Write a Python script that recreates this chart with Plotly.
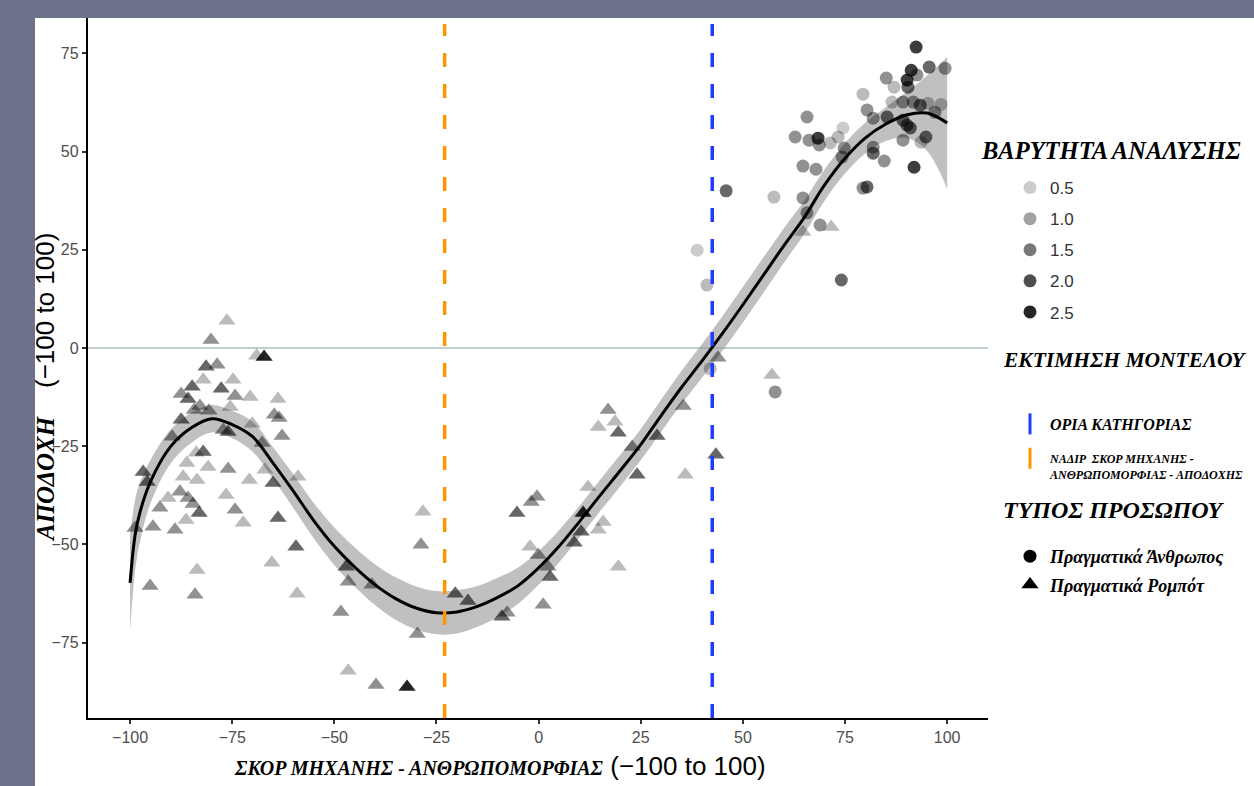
import plotly.graph_objects as go

# ---------------- data ----------------
# Robot faces (triangles): machine-human score, acceptance, analysis weight
robot_x = [-76.3, -80.2, -69.0, -67.2, -81.4, -78.7, -82.1, -74.8, -84.8, -87.5,
           -77.7, -74.3, -70.6, -63.8, -85.8, -82.9, -75.5, -84.3, -80.7, -64.7,
           -63.5, -87.5, -70.1, -89.7, -77.2, -76.0, -67.7, -62.8, -82.1, -83.8,
           -86.1, -80.9, -76.0, -70.8, -67.0, -65.0, -58.9, -96.8, -95.8, -87.0,
           -83.6, -90.7, -87.8, -85.8, -92.7, -84.6, -83.1, -76.5, -74.3, -72.3,
           -86.3, -89.0, -94.4, -98.8, -63.8, -59.4, -65.3, -83.6, -95.1, -84.1,
           -59.1,
           -47.1, -46.6, -40.8, -48.4, -28.3, -28.8, -29.7, -46.6, -39.8, -32.2,
           -20.4, -17.3, -9.0, -7.7, 1.1, -5.3, -1.8, -0.4, -2.1, -0.1,
           2.8, 2.3, 8.7, 10.9, 12.1, 10.4, 14.6, 15.8, 19.5, 17.0,
           14.6, 18.7, 19.5, 22.9, 24.1, 29.0, 35.9, 35.4, 43.4, 43.9,
           57.1, 64.7, 71.6]
robot_y = [6.9, 2.0, -2.0, -2.3, -4.8, -4.3, -8.1, -8.1, -9.9, -11.7,
           -10.4, -12.2, -12.5, -13.0, -13.0, -14.8, -15.0, -15.8, -16.0, -17.0,
           -17.8, -18.3, -19.3, -22.6, -20.9, -21.4, -24.2, -22.4, -26.5, -26.7,
           -29.3, -30.3, -30.8, -33.6, -31.0, -34.4, -32.8, -31.6, -34.1, -32.8,
           -33.6, -38.2, -36.6, -38.2, -40.7, -39.7, -42.0, -37.4, -41.2, -44.5,
           -43.8, -46.3, -45.5, -45.8, -43.3, -50.6, -54.7, -56.5, -60.6, -62.8,
           -62.6,
           -55.7, -59.5, -60.3, -67.2, -41.7, -50.1, -72.8, -82.2, -85.8, -86.3,
           -62.6, -64.4, -68.4, -67.4, -65.4, -42.0, -39.2, -37.9, -50.6, -52.7,
           -58.3, -55.7, -49.6, -42.0, -35.4, -46.8, -46.3, -44.3, -55.7, -15.8,
           -20.1, -18.8, -21.6, -25.2, -32.3, -22.4, -32.3, -14.8, -27.2, -2.5,
           -6.9, 29.5, 30.8]
robot_w = [0.7, 1.2, 0.7, 2.5, 1.7, 1.2, 0.7, 0.7, 1.7, 1.2,
           1.7, 1.2, 0.7, 0.7, 1.7, 1.2, 0.7, 1.2, 1.2, 1.2,
           1.2, 1.7, 0.7, 1.2, 1.2, 1.7, 1.2, 1.2, 1.7, 0.7,
           0.7, 0.7, 1.2, 0.7, 0.7, 1.7, 0.7, 1.7, 1.7, 0.7,
           0.7, 0.7, 1.2, 1.2, 1.2, 1.2, 1.7, 0.7, 1.2, 0.7,
           0.7, 1.2, 1.2, 1.2, 1.7, 1.7, 0.7, 0.7, 1.2, 1.2,
           0.7,
           1.7, 1.2, 1.2, 1.2, 0.7, 1.2, 1.2, 0.7, 1.2, 2.5,
           1.7, 1.7, 1.7, 1.2, 1.2, 1.7, 1.2, 1.2, 0.7, 1.2,
           1.7, 1.2, 1.7, 2.5, 0.7, 1.7, 0.7, 0.7, 0.7, 1.2,
           0.7, 0.7, 1.7, 1.2, 1.7, 1.7, 0.7, 1.2, 1.7, 1.2,
           0.7, 0.7, 0.7]

# Human faces (circles)
human_x = [92.4, 95.6, 91.2, 92.6, 85.1, 90.2, 87.0, 90.4, 79.4, 86.5,
           89.2, 91.7, 93.4, 95.3, 80.4, 81.9, 85.3, 89.2, 90.2, 91.0,
           65.7, 74.5, 62.8, 66.2, 68.4, 68.7, 71.4, 73.3, 74.8, 74.3,
           81.9, 81.9, 89.2, 93.6, 94.8, 84.6, 91.9, 64.7, 67.9, 79.4,
           80.4, 57.6, 64.7, 45.9, 65.7, 68.9, 74.1, 38.8, 41.2, 42.0,
           57.9, 99.5, 98.5, 97.0]
human_y = [76.6, 71.5, 70.7, 69.5, 68.7, 68.2, 66.4, 66.4, 64.6, 62.6,
           62.6, 62.6, 61.8, 62.3, 60.6, 58.5, 58.8, 58.0, 56.7, 56.0,
           58.8, 56.0, 53.7, 52.9, 53.4, 51.7, 52.2, 53.7, 50.9, 48.6,
           51.1, 49.6, 52.9, 52.4, 53.7, 47.6, 46.0, 46.3, 45.5, 40.7,
           41.0, 38.4, 38.2, 40.0, 34.4, 31.3, 17.3, 24.9, 16.0, -5.3,
           -11.2, 71.2, 62.0, 60.0]
human_w = [2.2, 1.7, 2.2, 1.2, 1.2, 2.2, 0.7, 1.7, 0.7, 0.7,
           1.2, 1.2, 1.7, 0.7, 1.2, 1.2, 1.7, 1.7, 1.7, 1.7,
           1.2, 0.5, 1.2, 1.2, 2.2, 1.2, 0.7, 0.7, 1.2, 1.2,
           1.2, 1.7, 1.2, 0.7, 1.7, 1.2, 2.2, 1.2, 1.2, 1.2,
           1.7, 0.7, 1.2, 1.7, 1.2, 1.2, 1.7, 0.5, 0.7, 0.7,
           1.2, 1.2, 0.7, 1.2]

# Model estimate (smooth fit) and its confidence band, read at these scores
fit_x = [-100, -98.75, -97.5, -95, -90, -85, -80, -75, -70, -65, -60, -55, -50, -45, -40,
         -35, -30, -25, -20, -15, -10, -5, 0, 5, 10, 15, 20, 25, 30, 35, 40,
         45, 50, 55, 60, 65, 70, 75, 80, 85, 90, 95, 100]
fit_y = [-59.8, -47.5, -41.5, -34.0, -25.0, -20.3, -18.0, -19.5, -22.6, -29.3, -36.5,
         -44.0, -50.5, -55.8, -60.3, -63.8, -66.2, -67.4, -67.2, -65.8, -63.5,
         -60.5, -56.0, -50.5, -44.2, -37.6, -31.2, -24.6, -17.2, -10.0, -3.3,
         3.7, 11.0, 18.5, 26.0, 33.2, 41.5, 48.3, 53.5, 57.0, 59.3, 59.8, 57.3]
band_lo = [-72.0, -56.5, -49.0, -39.5, -29.3, -24.1, -21.5, -23.0, -26.4, -33.3, -40.8,
           -48.5, -55.3, -60.8, -65.5, -69.2, -71.7, -72.9, -72.7, -71.0, -68.5,
           -65.1, -60.3, -54.6, -48.2, -41.6, -35.2, -28.6, -21.3, -14.2, -7.6,
           -0.7, 6.5, 14.0, 21.6, 29.0, 37.5, 44.4, 49.6, 52.7, 53.5, 50.3, 40.5]
band_hi = [-47.6, -38.5, -34.0, -28.5, -20.7, -16.5, -14.5, -16.0, -18.8, -25.3, -32.2,
           -39.5, -45.7, -50.8, -55.1, -58.4, -60.7, -61.9, -61.7, -60.6, -58.5,
           -55.9, -51.7, -46.4, -40.2, -33.6, -27.2, -20.6, -13.1, -5.8, 1.0,
           8.1, 15.5, 23.0, 30.4, 37.4, 45.5, 52.2, 57.4, 61.3, 65.1, 69.3, 74.1]

category_boundary = 42.5   # blue dashed line
nadir_score = -23.0        # orange dashed line

x_ticks = [-100, -75, -50, -25, 0, 25, 50, 75, 100]
y_ticks = [-75, -50, -25, 0, 25, 50, 75]
weight_levels = [0.5, 1.0, 1.5, 2.0, 2.5]
weight_labels = ["0.5", "1.0", "1.5", "2.0", "2.5"]

# ---------------- styling ----------------
SERIF = "Liberation Serif"
SANS = "Liberation Sans"
BLUE = "#1f3cff"
ORANGE = "#ff9500"


def alpha(w):
    return 0.035 + 0.33 * w


fig = go.Figure()

# confidence band
fig.add_trace(go.Scatter(x=fit_x, y=band_lo, mode="lines", line=dict(width=0, shape="spline"),
                         showlegend=False, hoverinfo="skip"))
fig.add_trace(go.Scatter(x=fit_x, y=band_hi, mode="lines", line=dict(width=0, shape="spline"),
                         fill="tonexty", fillcolor="rgba(150,150,150,0.6)",
                         showlegend=False, hoverinfo="skip"))

# points
fig.add_trace(go.Scatter(x=robot_x, y=robot_y, mode="markers", showlegend=False,
                         marker=dict(symbol="triangle-up", size=15, color="black",
                                     opacity=[alpha(w) for w in robot_w], line=dict(width=0))))
fig.add_trace(go.Scatter(x=human_x, y=human_y, mode="markers", showlegend=False,
                         marker=dict(symbol="circle", size=13, color="black",
                                     opacity=[alpha(w) for w in human_w], line=dict(width=0))))

# fit line
fig.add_trace(go.Scatter(x=fit_x, y=fit_y, mode="lines", showlegend=False,
                         line=dict(color="black", width=3, shape="spline"), hoverinfo="skip"))

# ---- legend-only traces ----
for i, (w, lab) in enumerate(zip(weight_levels, weight_labels)):
    fig.add_trace(go.Scatter(x=[None], y=[None], mode="markers", name=lab,
                             legend="legend", legendgroup=f"w{i}",
                             marker=dict(symbol="circle", size=13, color="black",
                                         opacity=alpha(w), line=dict(width=0))))

fig.add_trace(go.Scatter(x=[None], y=[None], mode="markers",
                         name="ΟΡΙΑ ΚΑΤΗΓΟΡΙΑΣ",
                         legend="legend2",
                         marker=dict(symbol="line-ns-open", size=15, color=BLUE,
                                     line=dict(color=BLUE, width=3))))
fig.add_trace(go.Scatter(x=[None], y=[None], mode="markers",
                         name="ΝΑΔΙΡ  ΣΚΟΡ ΜΗΧΑΝΗΣ -<br>ΑΝΘΡΩΠΟΜΟΡΦΙΑΣ - ΑΠΟΔΟΧΗΣ",
                         legend="legend4",
                         marker=dict(symbol="line-ns-open", size=15, color=ORANGE,
                                     line=dict(color=ORANGE, width=3))))

fig.add_trace(go.Scatter(x=[None], y=[None], mode="markers", name="Πραγματικά Άνθρωπος",
                         legend="legend3", legendgroup="t1",
                         marker=dict(symbol="circle", size=13, color="black")))
fig.add_trace(go.Scatter(x=[None], y=[None], mode="markers", name="Πραγματικά Ρομπότ",
                         legend="legend3", legendgroup="t2",
                         marker=dict(symbol="triangle-up", size=15, color="black")))

# ---------------- layout ----------------
W, H = 1254, 786
L, R, T, B = 88, 266, 18, 68
pw, ph = W - L - R, H - T - B


def px_x(px):
    return (px - L) / pw


def px_y(py):
    return (H - B - py) / ph


axis_common = dict(showgrid=False, zeroline=False, showline=True, linecolor="black",
                   linewidth=2.4, ticks="outside", ticklen=4, tickwidth=2, tickcolor="#333",
                   tickfont=dict(family=SANS, size=16, color="#4d4d4d"))

serif_bi = dict(family=SERIF, color="black", weight="bold", style="italic")

fig.update_layout(
    width=W, height=H,
    margin=dict(l=L, r=R, t=T, b=B, autoexpand=False),
    paper_bgcolor="#6d728b",
    plot_bgcolor="white",
    xaxis=dict(range=[-110.3, 110.0], tickvals=x_ticks, **axis_common),
    yaxis=dict(range=[-94.2, 84.0], tickvals=y_ticks, **axis_common),
    legend=dict(x=px_x(1010), y=px_y(170), xanchor="left", yanchor="top",
                font=dict(family=SANS, size=17, color="#333"),
                traceorder="grouped", tracegroupgap=6, bgcolor="rgba(0,0,0,0)"),
    legend2=dict(x=px_x(1010), y=px_y(407), xanchor="left", yanchor="top",
                 font=dict(size=16, **serif_bi), bgcolor="rgba(0,0,0,0)"),
    legend4=dict(x=px_x(1010), y=px_y(444), xanchor="left", yanchor="top",
                 font=dict(size=12, **serif_bi), valign="top", bgcolor="rgba(0,0,0,0)"),
    legend3=dict(x=px_x(1010), y=px_y(538), xanchor="left", yanchor="top",
                 font=dict(size=18, **serif_bi),
                 traceorder="grouped", tracegroupgap=2, bgcolor="rgba(0,0,0,0)"),
    shapes=[
        # white panel inside the dark frame
        dict(type="rect", xref="paper", yref="paper", x0=px_x(35), x1=px_x(W + 5),
             y0=px_y(H + 5), y1=px_y(18), fillcolor="white", line=dict(width=0), layer="below"),
        # zero line
        dict(type="line", xref="paper", yref="y", x0=0, x1=1, y0=0, y1=0,
             line=dict(color="#c3cfcf", width=2), layer="below"),
        dict(type="line", xref="x", yref="paper", x0=category_boundary, x1=category_boundary,
             y0=0, y1=px_y(24), line=dict(color=BLUE, width=3.5, dash="14px,17px"), layer="above"),
        dict(type="line", xref="x", yref="paper", x0=nadir_score, x1=nadir_score,
             y0=0, y1=px_y(24), line=dict(color=ORANGE, width=3.5, dash="14px,17px"), layer="above"),
    ],
    annotations=[
        dict(xref="paper", yref="paper", x=px_x(979), y=px_y(150), xanchor="left", yanchor="middle",
             showarrow=False, text="<b><i>ΒΑΡΥΤΗΤΑ ΑΝΑΛΥΣΗΣ</i></b>",
             font=dict(family=SERIF, size=24.5, color="black")),
        dict(xref="paper", yref="paper", x=px_x(1001), y=px_y(360), xanchor="left", yanchor="middle",
             showarrow=False, text="<b><i>ΕΚΤΙΜΗΣΗ ΜΟΝΤΕΛΟΥ</i></b>",
             font=dict(family=SERIF, size=21.5, color="black")),
        dict(xref="paper", yref="paper", x=px_x(1001), y=px_y(510), xanchor="left", yanchor="middle",
             showarrow=False, text="<b><i>ΤΥΠΟΣ ΠΡΟΣΩΠΟΥ</i></b>",
             font=dict(family=SERIF, size=24, color="black")),
        dict(xref="paper", yref="paper", x=px_x(232), y=px_y(766), xanchor="left", yanchor="middle",
             showarrow=False,
             text="<b><i>ΣΚΟΡ ΜΗΧΑΝΗΣ - ΑΝΘΡΩΠΟΜΟΡΦΙΑΣ</i></b>"
                  "<span style='font-family:Liberation Sans;font-size:26px'> (−100 to 100)</span>",
             font=dict(family=SERIF, size=20, color="black")),
        dict(xref="paper", yref="paper", x=px_x(45), y=px_y(388), xanchor="center", yanchor="middle",
             showarrow=False, textangle=-90,
             text="<b><i>ΑΠΟΔΟΧΗ</i></b>"
                  "<span style='font-family:Liberation Sans;font-size:26px'>&nbsp;&nbsp;&nbsp;&nbsp;(−100 to 100)</span>",
             font=dict(family=SERIF, size=25, color="black")),
    ],
)

fig.write_html("out.html", config={"displayModeBar": False},
               post_script="document.body.style.margin='0px';")
